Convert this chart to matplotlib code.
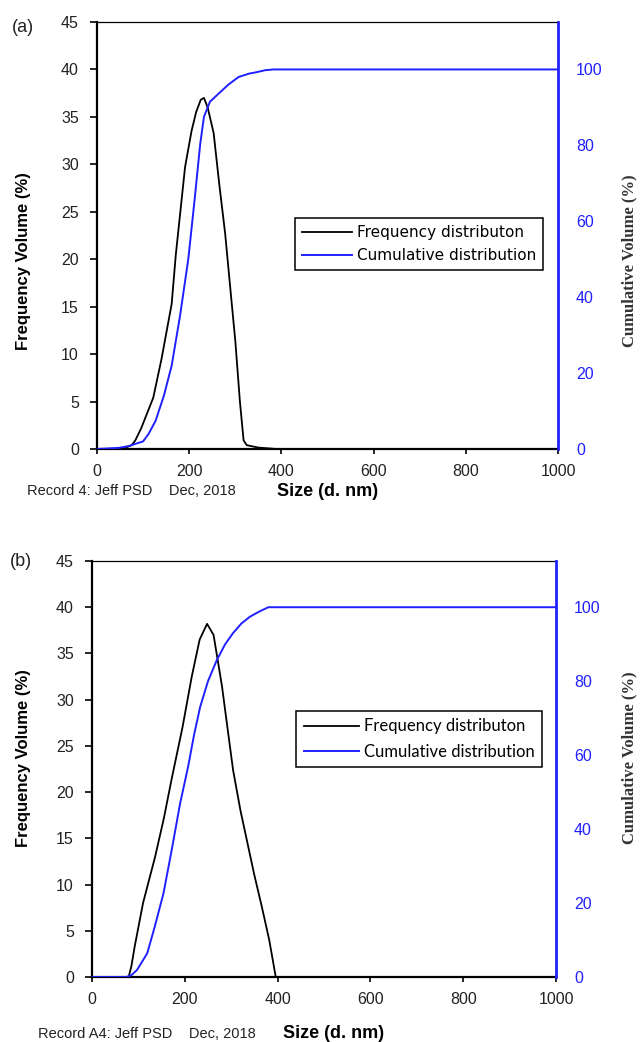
import matplotlib.pyplot as plt

# Sample (a): frequency and cumulative volume vs particle size
size_a_freq = [0, 40, 60, 75, 83, 96, 122, 140, 162, 171, 191, 205, 215, 225, 232, 240, 253, 265, 278, 290, 300, 310, 318, 325, 350, 390, 1000]
freq_a = [0, 0, 0.1, 0.4, 0.9, 2.2, 5.4, 9.5, 15.3, 20.5, 29.7, 33.5, 35.5, 36.8, 37.0, 36.0, 33.3, 28.0, 22.7, 16.5, 11.4, 5.0, 0.9, 0.4, 0.15, 0, 0]
size_a_cum = [0, 47, 70, 82, 100, 112, 127, 145, 162, 180, 198, 212, 224, 232, 245, 260, 285, 307, 330, 347, 365, 383, 1000]
cum_a = [0, 0.3, 0.8, 1.3, 2.0, 4.0, 7.4, 14.0, 22.0, 35.0, 50.0, 66.0, 80.5, 87.5, 91.5, 93.2, 96.0, 98.0, 98.9, 99.3, 99.8, 100, 100]

# Sample (b)
size_b_freq = [0, 70, 79, 85, 92, 110, 136, 155, 172, 195, 215, 232, 248, 262, 280, 304, 320, 335, 350, 366, 382, 396, 1000]
freq_b = [0, 0, 0, 1.2, 3.3, 8.0, 13.0, 17.2, 21.5, 27.0, 32.5, 36.5, 38.2, 37.0, 31.5, 22.4, 18.0, 14.5, 11.0, 7.6, 4.0, 0, 0]
size_b_cum = [0, 74, 85, 97, 119, 135, 154, 172, 190, 207, 220, 233, 250, 269, 287, 304, 322, 340, 360, 380, 1000]
cum_b = [0, 0, 0.5, 1.9, 6.4, 13.5, 22.6, 34.5, 47.0, 56.8, 65.5, 73.0, 80.0, 85.7, 90.0, 93.0, 95.6, 97.4, 98.8, 100, 100]

left_ticks = [0, 5, 10, 15, 20, 25, 30, 35, 40, 45]
right_ticks = [0, 20, 40, 60, 80, 100]
x_ticks = [0, 200, 400, 600, 800, 1000]
legend_labels = ['Frequency distributon', 'Cumulative distribution']

sans = 'Liberation Sans'
blue = '#2020ff'
W, H = 641, 1042

fig = plt.figure(figsize=(W / 100, H / 100), dpi=100)


def px(x, y):
    # pixel position (from top-left) to figure fraction
    return x / W, 1 - y / H


def draw_panel(box, size_f, freq, size_c, cum, legend_xy, legend_font):
    x0, y0, x1, y1 = box
    ax1 = fig.add_axes([x0 / W, 1 - y1 / H, (x1 - x0) / W, (y1 - y0) / H])
    ax2 = ax1.twinx()

    ax1.plot(size_f, freq, color='black', linewidth=1.3)
    ax2.plot(size_c, cum, color=blue, linewidth=1.4)

    ax1.set_xlim(0, 1000)
    ax1.set_ylim(0, 45)
    ax2.set_ylim(0, 112.5)
    ax1.set_xticks(x_ticks)
    ax1.set_yticks(left_ticks)
    ax2.set_yticks(right_ticks)

    for lbl in ax1.get_xticklabels() + ax1.get_yticklabels():
        lbl.set_fontfamily(sans)
        lbl.set_fontsize(11.5)
        lbl.set_color('#222222')
    for lbl in ax2.get_yticklabels():
        lbl.set_fontfamily(sans)
        lbl.set_fontsize(11.5)

    ax1.tick_params(axis='y', direction='out', length=5, width=1.2, pad=8)
    ax1.tick_params(axis='x', direction='out', length=3.5, width=1.2, pad=7)
    ax2.tick_params(axis='y', length=0, labelcolor=blue, pad=13)

    ax1.spines['left'].set_linewidth(1.6)
    ax1.spines['bottom'].set_linewidth(1.6)
    ax1.spines['top'].set_linewidth(0.9)
    ax1.spines['right'].set_visible(False)
    for side in ['top', 'left', 'bottom']:
        ax2.spines[side].set_visible(False)
    ax2.spines['right'].set_color(blue)
    ax2.spines['right'].set_linewidth(2.0)

    handles = ax1.get_lines() + ax2.get_lines()
    leg = fig.legend(handles, legend_labels, loc='upper left',
                     bbox_to_anchor=px(*legend_xy), frameon=True, fancybox=False,
                     edgecolor='black', framealpha=1, prop=legend_font,
                     handlelength=3.3, handletextpad=0.3, borderpad=0.45,
                     labelspacing=0.55, borderaxespad=0)
    leg.get_frame().set_linewidth(1.1)
    return ax1, ax2


draw_panel((97, 22, 558, 449), size_a_freq, freq_a, size_a_cum, cum_a, (295, 218),
           {'family': 'DejaVu Sans', 'size': 11})
draw_panel((92, 561, 556, 977), size_b_freq, freq_b, size_b_cum, cum_b, (296, 711),
           {'family': 'Lato', 'size': 12})

# Panel tags
fig.text(*px(12, 27), '(a)', fontfamily=sans, fontsize=13, va='center', color='#222222')
fig.text(*px(10, 562), '(b)', fontfamily=sans, fontsize=13, va='center', color='#222222')

# Axis titles
for yc in (261, 758):
    fig.text(*px(24, yc), 'Frequency Volume (%)', fontfamily=sans, fontweight='bold',
             fontsize=12, rotation=90, ha='center', va='center')
    fig.text(*px(629, yc), 'Cumulative Volume (%)', fontfamily='Liberation Serif',
             fontweight='bold', fontsize=12, rotation=90, ha='center', va='center',
             color='#333333')

# Footer lines under each x axis
fig.text(*px(27, 491), 'Record 4: Jeff PSD    Dec, 2018', fontfamily=sans,
         fontsize=10.5, va='center', color='#222222')
fig.text(*px(277, 491), 'Size (d. nm)', fontfamily=sans, fontweight='bold',
         fontsize=13, va='center')
fig.text(*px(38, 1034), 'Record A4: Jeff PSD    Dec, 2018', fontfamily=sans,
         fontsize=10.5, va='center', color='#222222')
fig.text(*px(283, 1034), 'Size (d. nm)', fontfamily=sans, fontweight='bold',
         fontsize=13, va='center')

fig.savefig('out.png', dpi=100)
